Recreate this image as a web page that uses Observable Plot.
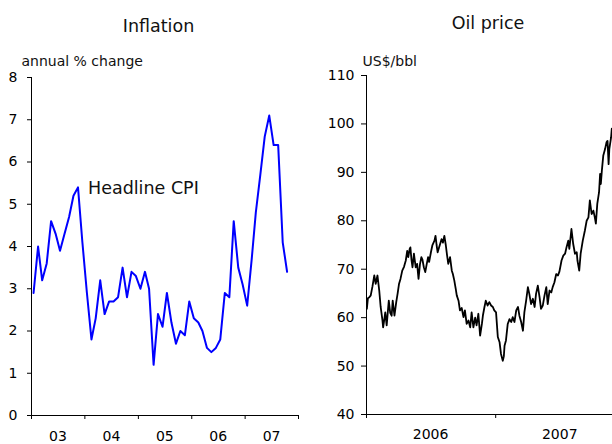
<!DOCTYPE html>
<html><head><meta charset="utf-8">
<script src="https://cdn.jsdelivr.net/npm/d3@7"></script>
<script src="https://cdn.jsdelivr.net/npm/@observablehq/plot@0.6"></script>
<style>
body{margin:0;background:#fff;}
#wrap{position:relative;width:612px;height:444px;overflow:hidden;}
#wrap svg{position:absolute;top:0;}
</style></head><body><div id="wrap"></div>
<script>
// ---- Inflation (monthly, from Jan 2003) ----
const cpiStart = "2003-01";
const cpiValues = [2.9,4.0,3.2,3.6,4.6,4.3,3.9,4.3,4.7,5.2,5.4,4.1,
  2.9,1.8,2.3,3.2,2.4,2.7,2.7,2.8,3.5,2.8,3.4,3.3,
  3.0,3.4,3.0,1.2,2.4,2.1,2.9,2.2,1.7,2.0,1.9,2.7,
  2.3,2.2,2.0,1.6,1.5,1.6,1.8,2.9,2.8,4.6,3.5,3.1,
  2.6,3.7,4.8,5.7,6.6,7.1,6.4,6.4,4.1,3.4];
const cpiYTicks = [0,1,2,3,4,5,6,7,8];
const cpiYearBounds = ["2003-01-01","2004-01-01","2005-01-01","2006-01-01","2007-01-01","2008-01-01"];
const cpiYearLabelPos = ["2003-07-01","2004-07-01","2005-07-01","2006-07-01","2007-07-01"];

// ---- Oil price (US$/bbl) ----
const oilDates = ["2006-01-02","2006-01-05","2006-01-09","2006-01-13","2006-01-18","2006-01-23","2006-01-27","2006-02-01","2006-02-06","2006-02-10","2006-02-15","2006-02-17","2006-02-20","2006-02-23","2006-02-27","2006-03-02","2006-03-05","2006-03-09","2006-03-13","2006-03-16","2006-03-21","2006-03-26","2006-03-30","2006-04-03","2006-04-07","2006-04-12","2006-04-17","2006-04-22","2006-04-26","2006-04-29","2006-05-03","2006-05-05","2006-05-08","2006-05-11","2006-05-15","2006-05-18","2006-05-20","2006-05-24","2006-05-28","2006-06-01","2006-06-05","2006-06-08","2006-06-12","2006-06-16","2006-06-20","2006-06-24","2006-06-27",
"2006-07-02","2006-07-06","2006-07-12","2006-07-15","2006-07-18","2006-07-21","2006-07-25","2006-07-28","2006-08-01","2006-08-05","2006-08-09","2006-08-13","2006-08-16","2006-08-20","2006-08-25","2006-08-30","2006-09-02","2006-09-06","2006-09-10","2006-09-13","2006-09-18","2006-09-22","2006-09-27","2006-10-02","2006-10-06","2006-10-11","2006-10-16","2006-10-21","2006-10-25","2006-10-30","2006-11-04","2006-11-08","2006-11-13","2006-11-18","2006-11-23","2006-11-26","2006-11-30","2006-12-04","2006-12-09","2006-12-14","2006-12-19","2006-12-24","2006-12-28",
"2007-01-02","2007-01-07","2007-01-12","2007-01-16","2007-01-21","2007-01-24","2007-01-26","2007-01-30","2007-02-04","2007-02-09","2007-02-14","2007-02-18","2007-02-23","2007-02-28","2007-03-05","2007-03-09","2007-03-14","2007-03-19","2007-03-23","2007-03-28","2007-04-02","2007-04-06","2007-04-11","2007-04-16","2007-04-21","2007-04-25","2007-04-30","2007-05-05","2007-05-09","2007-05-14","2007-05-19","2007-05-24","2007-05-28","2007-06-02","2007-06-07","2007-06-11","2007-06-16","2007-06-21","2007-06-26","2007-06-30",
"2007-07-06","2007-07-11","2007-07-16","2007-07-20","2007-07-25","2007-07-28","2007-08-01","2007-08-03","2007-08-08","2007-08-13","2007-08-18","2007-08-20","2007-08-25","2007-08-29","2007-09-04","2007-09-10","2007-09-15","2007-09-20","2007-09-24","2007-09-29","2007-10-04","2007-10-08","2007-10-11","2007-10-15","2007-10-20","2007-10-23","2007-10-25","2007-10-28","2007-11-01","2007-11-06","2007-11-10","2007-11-13","2007-11-16","2007-11-18","2007-11-23","2007-11-25"];
const oilValues = [61.8,64.0,64.2,64.6,66.5,68.7,67.0,68.7,65.6,62.2,59.5,58.0,59.5,61.1,58.4,61.0,63.5,61.0,60.4,63.5,60.4,63.2,65.0,67.0,68.0,69.7,70.5,71.8,73.8,72.5,74.2,74.5,72.0,70.4,73.2,71.5,70.4,71.1,68.0,71.0,72.5,72.0,70.4,69.4,71.0,72.5,71.5,
73.5,74.9,75.9,76.9,75.0,73.5,74.5,75.2,76.2,75.5,76.9,75.0,73.2,71.1,72.5,69.7,69.0,67.7,66.0,64.6,63.5,61.5,62.0,60.1,61.5,58.7,59.4,58.0,61.1,58.0,60.0,58.4,60.8,56.3,58.7,60.5,62.1,63.5,62.5,63.2,62.5,62.2,61.5,
61.1,56.0,54.9,52.5,51.1,52.0,54.2,55.3,58.7,59.7,59.1,60.1,59.1,61.5,62.2,60.4,59.1,57.3,61.1,63.5,66.3,64.9,62.8,63.9,62.2,64.9,66.6,64.2,61.8,62.5,64.6,66.3,62.8,65.6,65.2,66.3,67.3,69.0,68.7,69.5,
71.8,72.8,73.2,74.5,75.9,74.2,76.9,78.3,75.2,73.2,73.5,71.8,69.7,73.2,75.9,78.0,80.0,80.7,84.2,81.4,82.1,80.7,79.4,83.5,85.9,89.7,87.6,90.4,93.5,94.8,96.2,96.5,91.7,94.8,97.2,99.0];
const oilYTicks = [40,50,60,70,80,90,100,110];
const oilYearBounds = ["2006-01-01","2007-01-01"];
const oilYearLabelPos = ["2006-07-01","2007-07-01"];

const parseD = d3.utcParse("%Y-%m-%d");
const cpiData = cpiValues.map((v, i) => ({
  date: d3.utcDay.offset(d3.utcMonth.offset(d3.utcParse("%Y-%m")(cpiStart), i), 14),
  value: v
}));
const oilData = oilDates.map((d, i) => ({date: parseD(d), value: oilValues[i]}));

const FONT = "DejaVu Sans, Verdana, sans-serif";
const baseStyle = {fontFamily: FONT, fontSize: "14px", color: "#000", background: "transparent", overflow: "visible"};

const left = Plot.plot({
  width: 306, height: 444,
  marginLeft: 31, marginRight: 8, marginTop: 77, marginBottom: 29,
  style: baseStyle,
  x: {type: "utc", domain: [parseD("2003-01-01"), parseD("2008-01-01")]},
  y: {domain: [0, 8]},
  marks: [
    Plot.axisY({ticks: cpiYTicks, tickSize: 4, tickPadding: 10, label: null, tickFormat: d => String(d)}),
    Plot.axisX({ticks: cpiYearBounds.map(parseD), tickSize: 4, tickFormat: () => "", label: null}),
    Plot.axisX({ticks: cpiYearLabelPos.map(parseD), tickSize: 0, tickPadding: 15.5, tickFormat: d3.utcFormat("%y"), label: null}),
    Plot.ruleY([0], {stroke: "#000"}),
    Plot.ruleX([parseD("2003-01-01")], {stroke: "#000"}),
    Plot.lineY(cpiData, {x: "date", y: "value", stroke: "#0000ff", strokeWidth: 2})
  ]
});
left.style.left = "0px";

const right = Plot.plot({
  width: 306, height: 444,
  marginLeft: 60, marginRight: 0, marginTop: 75, marginBottom: 30,
  style: baseStyle,
  x: {type: "utc", domain: [parseD("2006-01-01"), parseD("2007-11-27")]},
  y: {domain: [40, 110]},
  marks: [
    Plot.axisY({ticks: oilYTicks, tickSize: 5, tickPadding: 7, label: null, tickFormat: d => String(d)}),
    Plot.axisX({ticks: oilYearBounds.map(parseD), tickSize: 4, tickFormat: () => "", label: null}),
    Plot.axisX({ticks: oilYearLabelPos.map(parseD), tickSize: 0, tickPadding: 15, tickFormat: d3.utcFormat("%Y"), label: null}),
    Plot.ruleY([40], {stroke: "#000"}),
    Plot.ruleX([parseD("2006-01-01")], {stroke: "#000"}),
    Plot.line(oilData, {x: "date", y: "value", stroke: "#000", strokeWidth: 1.8})
  ]
});
right.style.left = "306px";

const wrap = document.getElementById("wrap");
wrap.appendChild(left);
wrap.appendChild(right);

// Titles and annotations
const overlay = d3.create("svg").attr("width", 612).attr("height", 444)
  .style("left", "0px").style("pointer-events", "none")
  .attr("font-family", FONT).attr("fill", "#111");
const labels = [
  {t: "Inflation", x: 158.5, y: 31.5, s: 17.5, a: "middle"},
  {t: "Oil price", x: 488, y: 28.5, s: 17.5, a: "middle"},
  {t: "annual % change", x: 21.5, y: 65.5, s: 14, a: "start"},
  {t: "US$/bbl", x: 362.5, y: 66, s: 14, a: "start"},
  {t: "Headline CPI", x: 88, y: 193.5, s: 17.5, a: "start"}
];
overlay.selectAll("text").data(labels).join("text")
  .attr("x", d => d.x).attr("y", d => d.y)
  .attr("font-size", d => d.s).attr("text-anchor", d => d.a)
  .text(d => d.t);
wrap.appendChild(overlay.node());
</script>
</body></html>
